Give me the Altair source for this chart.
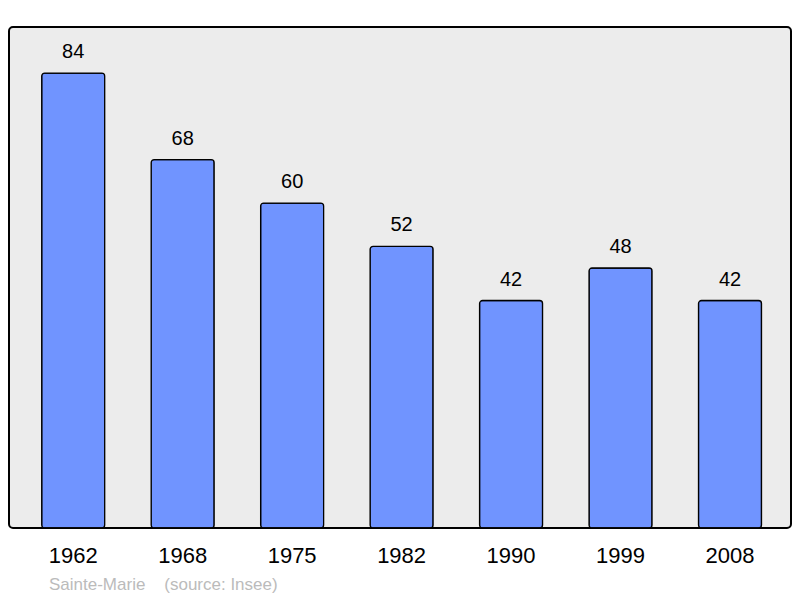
import altair as alt
import pandas as pd

years = ["1962", "1968", "1975", "1982", "1990", "1999", "2008"]
population = [84, 68, 60, 52, 42, 48, 42]

df = pd.DataFrame({"year": years, "pop": population})

xscale = alt.Scale(range=[32.7, 752.5], paddingInner=0.4245, paddingOuter=0)

x = alt.X("year:N", sort=years, scale=xscale,
          axis=alt.Axis(title=None, labelAngle=0, domain=False, ticks=False,
                        labelFontSize=22, labelPadding=17, labelColor="#000000",
                        labelFont="Liberation Sans"))
y = alt.Y("pop:Q", scale=alt.Scale(domain=[0, 92.5], nice=False, zero=True),
          axis=None)

bars = alt.Chart(df).mark_bar(color="#7094ff", stroke="#000000", strokeWidth=1.3,
                              cornerRadius=3).encode(x=x, y=y)

labels = alt.Chart(df).mark_text(fontSize=20, font="Liberation Sans", color="#000000",
                                 baseline="alphabetic", dy=-15).encode(
    x=alt.X("year:N", sort=years), y="pop:Q", text="pop:Q")

nb = "\u00a0" * 4
footer = alt.Chart(pd.DataFrame({"t": ["Sainte-Marie" + nb + "(source: Insee)"]})).mark_text(
    fontSize=17, font="Liberation Sans", color="#bbbbbb", align="left",
    baseline="alphabetic").encode(x=alt.value(40), y=alt.value(563), text="t:N")

chart = alt.layer(bars, labels, footer).properties(
    width=782, height=501,
    autosize=alt.AutoSizeParams(type="none"),
    padding={"left": 1, "top": 19, "right": 1, "bottom": 70},
).configure(background="#ffffff").configure_view(
    fill="#ececec", stroke="#000000", strokeWidth=2, cornerRadius=4
)

chart.save("out.html", embed_options={"renderer": "svg", "actions": False})
